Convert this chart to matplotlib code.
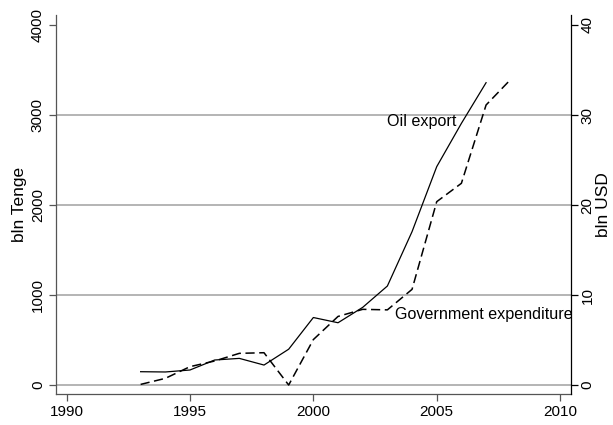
import numpy as np
import matplotlib
matplotlib.use("Agg")
import matplotlib.pyplot as plt

plt.rcParams['font.family'] = ['Liberation Sans', 'DejaVu Sans']

# government expenditure, bln Tenge (left axis)
years_exp = [1993, 1994, 1995, 1996, 1997, 1998, 1999, 2000,
             2001, 2002, 2003, 2004, 2005, 2006, 2007, 2008]
gov_exp = [7, 74, 204, 267, 352, 359, 0, 505,
           762, 841, 835, 1063, 2037, 2241, 3111, 3396]

# oil export, bln USD (right axis)
years_oil = [1993, 1994, 1995, 1996, 1997, 1998, 1999, 2000,
             2001, 2002, 2003, 2004, 2005, 2006, 2007]
oil_exp = [1.48, 1.45, 1.67, 2.78, 2.96, 2.22, 3.98, 7.50,
           6.92, 8.63, 11.0, 17.04, 24.26, 29.07, 33.59]

left_ticks = [0, 1000, 2000, 3000, 4000]
right_ticks = [0, 10, 20, 30, 40]
x_ticks = [1990, 1995, 2000, 2005, 2010]

tick_fs = 11
label_fs = 12.5
text_fs = 11.6
grid_color = '#b4b4b4'
axis_color = '#555555'

fig = plt.figure(figsize=(6.13, 4.25), dpi=100)
ax = fig.add_axes([56 / 613, 1 - 394.3 / 425, (570.7 - 56) / 613, (394.3 - 15) / 425])
ax2 = ax.twinx()

for g in left_ticks[:-1]:
    ax.axhline(g, color=grid_color, lw=1.4, zorder=0)

ax.plot(years_exp, gov_exp, color='black', lw=1.1, dashes=(6, 3), zorder=3)
ax2.plot(years_oil, oil_exp, color='black', lw=0.9, zorder=3)

# 1 bln USD on the right matches 100 bln Tenge on the left
ax.set_xlim(1989.57, 2010.43)
ax.set_ylim(-103, 4111)
ax2.set_ylim(-1.03, 41.11)

ax.set_xticks(x_ticks)
ax.set_yticks(left_ticks)
ax2.set_yticks(right_ticks)
ax.set_yticklabels([str(v) for v in left_ticks], rotation=90, va='center')
ax2.set_yticklabels([str(v) for v in right_ticks], rotation=90, va='center')

ax.tick_params(axis='both', direction='out', length=5, width=0.9,
               labelsize=tick_fs, color=axis_color, pad=3)
ax2.tick_params(axis='y', direction='out', length=5, width=0.9,
                labelsize=tick_fs, color='black', pad=2)

ax.spines['top'].set_visible(False)
ax2.spines['top'].set_visible(False)
ax2.spines['left'].set_visible(False)
ax2.spines['bottom'].set_visible(False)
ax.spines['right'].set_visible(False)
ax.spines['left'].set_color(axis_color)
ax.spines['bottom'].set_color(axis_color)
ax2.spines['right'].set_color('black')
for sp in ['left', 'bottom']:
    ax.spines[sp].set_linewidth(0.9)
ax2.spines['right'].set_linewidth(0.9)

ax.set_ylabel('bln Tenge', fontsize=label_fs, labelpad=3)
ax2.set_ylabel('bln USD', fontsize=label_fs, labelpad=1)

ax.text(2005.8, 2930, 'Oil export', fontsize=text_fs, ha='right', va='center', zorder=4)
ax.text(2003.3, 785, 'Government expenditure', fontsize=text_fs, ha='left', va='center', zorder=4)

fig.savefig('out.png', dpi=100, facecolor='white')
